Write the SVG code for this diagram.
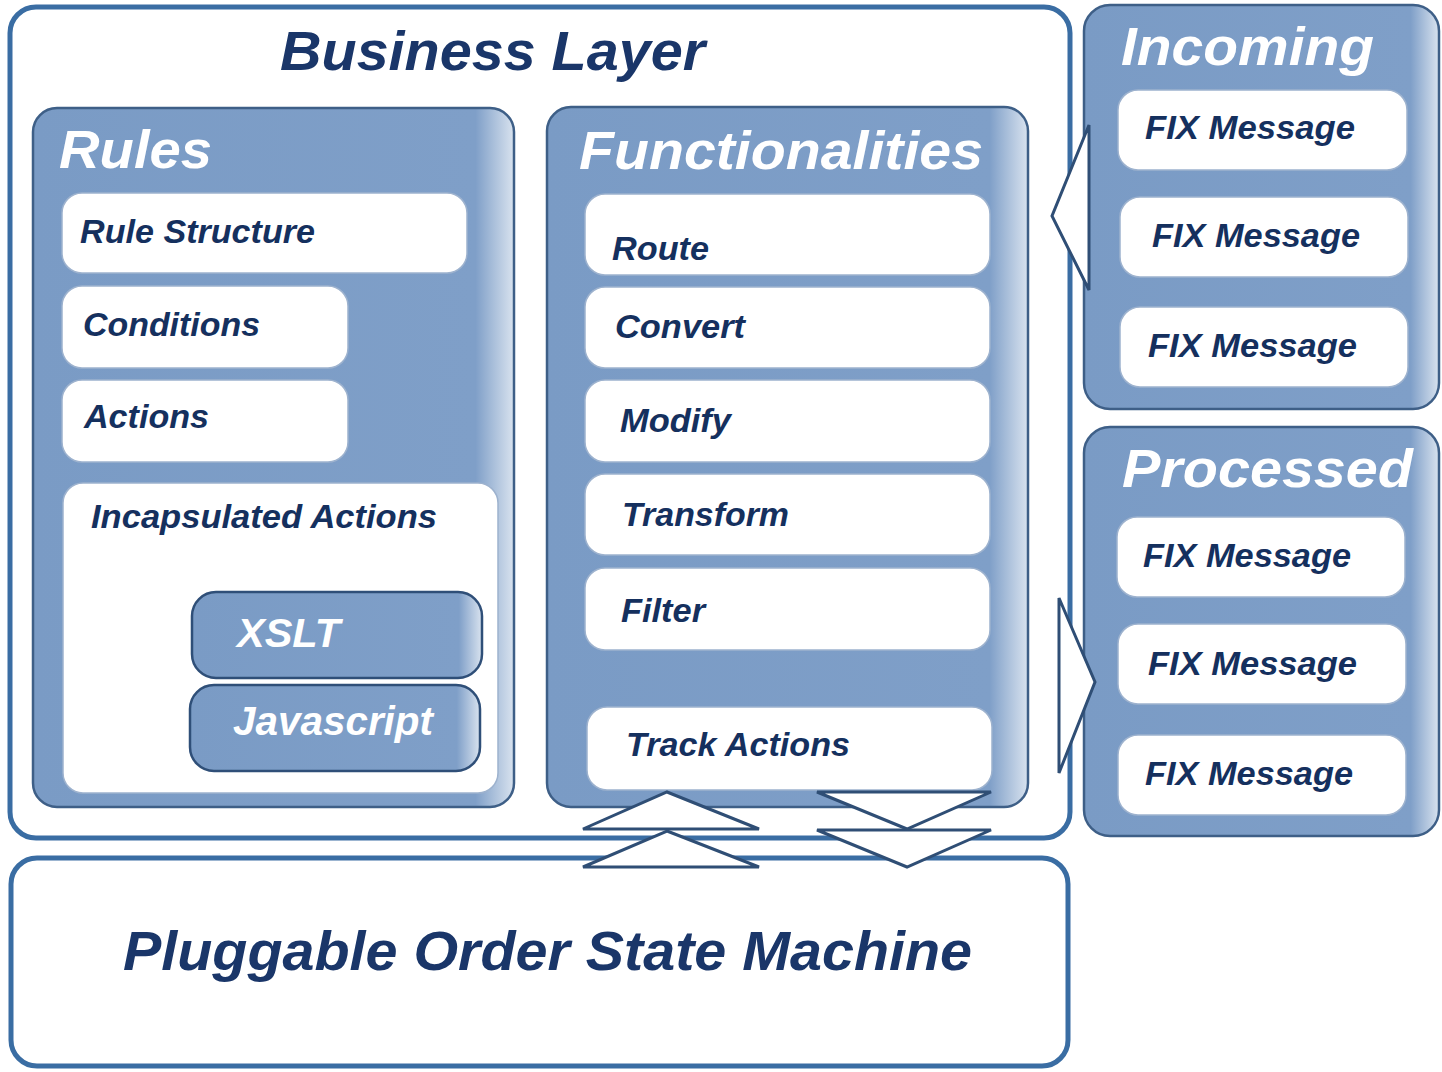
<svg xmlns="http://www.w3.org/2000/svg" width="1442" height="1072" viewBox="0 0 1442 1072">
<defs>
<linearGradient id="gBlue" x1="0" y1="0" x2="1" y2="0">
<stop offset="0" stop-color="#7a9bc5"/>
<stop offset="0.92" stop-color="#7f9fc8"/>
<stop offset="1" stop-color="#d9e3ef"/>
</linearGradient>
<style>
.outer{fill:#ffffff;stroke:#3a6da3;stroke-width:5}
.cont{fill:url(#gBlue);stroke:#3e5f87;stroke-width:2.5}
.item{fill:#ffffff;stroke:#9db2ce;stroke-width:1.5}
.sub{fill:url(#gBlue);stroke:#2f4f78;stroke-width:2.5}
.arrow{fill:#ffffff;stroke:#2f4e75;stroke-width:3;stroke-linejoin:miter}
text{font-family:"Liberation Sans",Arial,sans-serif;font-weight:bold;font-style:italic}
.t{fill:#15305e;font-size:34px}
.h{fill:#ffffff;font-size:54px}
.big{fill:#1a3669;font-size:56px}
.w{fill:#ffffff;font-size:40px}
</style>
</defs>

<g id="business-layer">
<rect class="outer" x="10" y="7" width="1060" height="831" rx="26"/>
<text class="big" x="280" y="70" textLength="425" lengthAdjust="spacingAndGlyphs">Business Layer</text>
</g>

<g id="state-machine">
<rect class="outer" x="11" y="858" width="1057" height="208" rx="26"/>
<text class="big" x="123" y="970" textLength="849" lengthAdjust="spacingAndGlyphs">Pluggable Order State Machine</text>
</g>

<g id="rules">
<rect class="cont" x="33" y="108" width="481" height="699" rx="24"/>
<text class="h" x="59" y="168" textLength="153" lengthAdjust="spacingAndGlyphs">Rules</text>
<g id="rule-structure">
<rect class="item" x="62" y="193" width="405" height="80" rx="20"/>
<text class="t" x="80" y="243" textLength="235" lengthAdjust="spacingAndGlyphs">Rule Structure</text>
</g>
<g id="conditions">
<rect class="item" x="62" y="286" width="286" height="82" rx="20"/>
<text class="t" x="83" y="336" textLength="177" lengthAdjust="spacingAndGlyphs">Conditions</text>
</g>
<g id="actions">
<rect class="item" x="62" y="380" width="286" height="82" rx="20"/>
<text class="t" x="84" y="428" textLength="125" lengthAdjust="spacingAndGlyphs">Actions</text>
</g>
<g id="incapsulated-actions">
<rect class="item" x="63" y="483" width="435" height="310" rx="20"/>
<text class="t" x="91" y="528" textLength="346" lengthAdjust="spacingAndGlyphs">Incapsulated Actions</text>
<g id="xslt">
<rect class="sub" x="192" y="592" width="290" height="86" rx="24"/>
<text class="w" x="237" y="647" textLength="103" lengthAdjust="spacingAndGlyphs">XSLT</text>
</g>
<g id="javascript">
<rect class="sub" x="190" y="685" width="290" height="86" rx="24"/>
<text class="w" x="233" y="735" textLength="200" lengthAdjust="spacingAndGlyphs">Javascript</text>
</g>
</g>
</g>

<g id="functionalities">
<rect class="cont" x="547" y="107" width="481" height="700" rx="24"/>
<text class="h" x="579" y="169" textLength="404" lengthAdjust="spacingAndGlyphs">Functionalities</text>
<g id="route">
<rect class="item" x="585" y="194" width="405" height="81" rx="20"/>
<text class="t" x="612" y="260" textLength="97" lengthAdjust="spacingAndGlyphs">Route</text>
</g>
<g id="convert">
<rect class="item" x="585" y="287" width="405" height="81" rx="20"/>
<text class="t" x="615" y="338" textLength="130" lengthAdjust="spacingAndGlyphs">Convert</text>
</g>
<g id="modify">
<rect class="item" x="585" y="380" width="405" height="82" rx="20"/>
<text class="t" x="620" y="432" textLength="111" lengthAdjust="spacingAndGlyphs">Modify</text>
</g>
<g id="transform">
<rect class="item" x="585" y="474" width="405" height="81" rx="20"/>
<text class="t" x="622" y="526" textLength="167" lengthAdjust="spacingAndGlyphs">Transform</text>
</g>
<g id="filter">
<rect class="item" x="585" y="568" width="405" height="82" rx="20"/>
<text class="t" x="621" y="622" textLength="84" lengthAdjust="spacingAndGlyphs">Filter</text>
</g>
<g id="track-actions">
<rect class="item" x="587" y="707" width="405" height="83" rx="20"/>
<text class="t" x="626" y="756" textLength="224" lengthAdjust="spacingAndGlyphs">Track Actions</text>
</g>
</g>

<g id="incoming">
<rect class="cont" x="1084" y="5" width="355" height="404" rx="26"/>
<text class="h" x="1121" y="65" textLength="253" lengthAdjust="spacingAndGlyphs">Incoming</text>
<g id="in-fix-1">
<rect class="item" x="1118" y="90" width="289" height="80" rx="20"/>
<text class="t" x="1145" y="139" textLength="210" lengthAdjust="spacingAndGlyphs">FIX Message</text>
</g>
<g id="in-fix-2">
<rect class="item" x="1120" y="197" width="288" height="80" rx="20"/>
<text class="t" x="1152" y="247" textLength="208" lengthAdjust="spacingAndGlyphs">FIX Message</text>
</g>
<g id="in-fix-3">
<rect class="item" x="1120" y="307" width="288" height="80" rx="20"/>
<text class="t" x="1148" y="357" textLength="209" lengthAdjust="spacingAndGlyphs">FIX Message</text>
</g>
</g>

<g id="processed">
<rect class="cont" x="1084" y="427" width="355" height="409" rx="26"/>
<text class="h" x="1122" y="487" textLength="291" lengthAdjust="spacingAndGlyphs">Processed</text>
<g id="out-fix-1">
<rect class="item" x="1117" y="517" width="288" height="80" rx="20"/>
<text class="t" x="1143" y="567" textLength="208" lengthAdjust="spacingAndGlyphs">FIX Message</text>
</g>
<g id="out-fix-2">
<rect class="item" x="1118" y="624" width="288" height="80" rx="20"/>
<text class="t" x="1148" y="675" textLength="209" lengthAdjust="spacingAndGlyphs">FIX Message</text>
</g>
<g id="out-fix-3">
<rect class="item" x="1118" y="735" width="288" height="80" rx="20"/>
<text class="t" x="1145" y="785" textLength="208" lengthAdjust="spacingAndGlyphs">FIX Message</text>
</g>
</g>

<g id="connectors">
<polygon class="arrow" points="1089,125 1052,216 1089,290"/>
<polygon class="arrow" points="1059,598 1095,682 1059,773"/>
<polygon class="arrow" points="667,792 759,829 583,829"/>
<polygon class="arrow" points="667,831 759,867 583,867"/>
<polygon class="arrow" points="817,792 991,792 907,829"/>
<polygon class="arrow" points="817,830 991,830 907,867"/>
</g>
</svg>
